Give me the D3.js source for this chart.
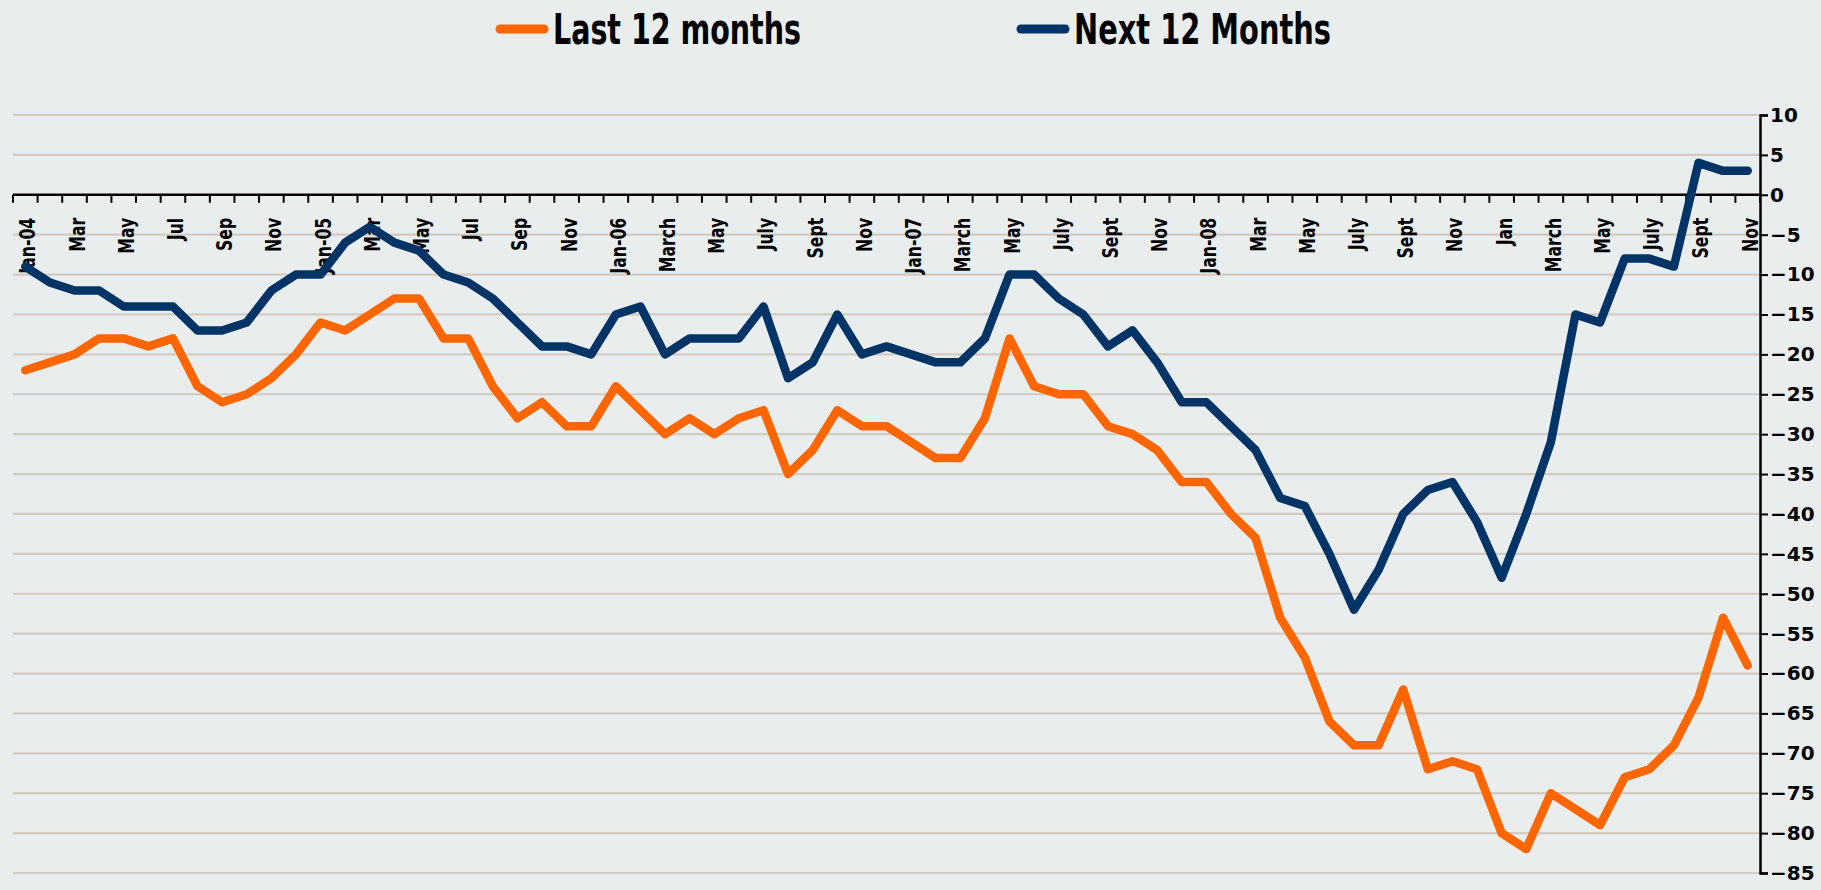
<!DOCTYPE html>
<html>
<head>
<meta charset="UTF-8">
<title>Last vs Next 12 Months</title>
<script src="https://d3js.org/d3.v7.min.js"></script>
<style>
  body { margin: 0; background: #e9edee; }
  svg { display: block; }
</style>
</head>
<body>
<svg width="1821" height="890"></svg>
<script>
// month categories, Jan-04 .. Nov-09 (only every other one is labelled)
var months = [
  "Jan-04","Feb","Mar","Apr","May","Jun","Jul","Aug","Sep","Oct","Nov","Dec",
  "Jan-05","Feb","Mar","Apr","May","Jun","Jul","Aug","Sep","Oct","Nov","Dec",
  "Jan-06","Feb","March","Apr","May","Jun","July","Aug","Sept","Oct","Nov","Dec",
  "Jan-07","Feb","March","Apr","May","Jun","July","Aug","Sept","Oct","Nov","Dec",
  "Jan-08","Feb","Mar","Apr","May","Jun","July","Aug","Sept","Oct","Nov","Dec",
  "Jan","Feb","March","Apr","May","Jun","July","Aug","Sept","Oct","Nov"
];

var last12 = [
  -22,-21,-20,-18,-18,-19,-18,-24,-26,-25,-23,-20,
  -16,-17,-15,-13,-13,-18,-18,-24,-28,-26,-29,-29,
  -24,-27,-30,-28,-30,-28,-27,-35,-32,-27,-29,-29,
  -31,-33,-33,-28,-18,-24,-25,-25,-29,-30,-32,-36,
  -36,-40,-43,-53,-58,-66,-69,-69,-62,-72,-71,-72,
  -80,-82,-75,-77,-79,-73,-72,-69,-63,-53,-59
];

var next12 = [
  -9,-11,-12,-12,-14,-14,-14,-17,-17,-16,-12,-10,
  -10,-6,-4,-6,-7,-10,-11,-13,-16,-19,-19,-20,
  -15,-14,-20,-18,-18,-18,-14,-23,-21,-15,-20,-19,
  -20,-21,-21,-18,-10,-10,-13,-15,-19,-17,-21,-26,
  -26,-29,-32,-38,-39,-45,-52,-47,-40,-37,-36,-41,
  -48,-40,-31,-15,-16,-8,-8,-9,4,3,3
];

var yTicks = d3.range(10, -86, -5);

var seriesNames = ["Last 12 months", "Next 12 Months"];
var seriesColors = ["#ff6600", "#003366"];

var svg = d3.select("svg");
var plotLeft = 13, plotRight = 1760, plotTop = 115, plotBottom = 873;

var x = d3.scaleBand().domain(d3.range(months.length)).range([plotLeft, plotRight]);
var y = d3.scaleLinear().domain([-85, 10]).range([plotBottom, plotTop]);

// gridlines
svg.append("g")
  .selectAll("line")
  .data(yTicks.filter(d => d != 0))
  .enter()
  .append("line")
  .attr("x1", plotLeft).attr("x2", plotRight)
  .attr("y1", d => y(d)).attr("y2", d => y(d))
  .attr("stroke", "#d3cbc0")
  .attr("stroke-width", 2.2);

// right value axis
var yAxis = svg.append("g")
  .attr("transform", "translate(" + plotRight + ",0)")
  .call(d3.axisRight(y).tickValues(yTicks).tickSize(8).tickPadding(6).tickFormat(d3.format("d")));
yAxis.select(".domain").attr("stroke", "#000").attr("stroke-width", 2.5);
yAxis.selectAll(".tick line").attr("stroke", "#000").attr("stroke-width", 2);
yAxis.selectAll("text")
  .attr("font-family", "DejaVu Sans, Verdana, sans-serif")
  .attr("font-weight", "bold")
  .attr("font-size", 20)
  .attr("fill", "#000")
  .attr("text-anchor", "start")
  .attr("x", 10);

// category axis on the zero line
var xg = svg.append("g");
xg.append("line")
  .attr("x1", plotLeft).attr("x2", plotRight)
  .attr("y1", y(0)).attr("y2", y(0))
  .attr("stroke", "#000").attr("stroke-width", 2.5);
xg.selectAll(".xtick")
  .data(d3.range(months.length + 1))
  .enter()
  .append("line")
  .attr("class", "xtick")
  .attr("x1", i => plotLeft + i * x.step()).attr("x2", i => plotLeft + i * x.step())
  .attr("y1", y(0)).attr("y2", y(0) + 8)
  .attr("stroke", "#000").attr("stroke-width", 2);
xg.selectAll(".xlabel")
  .data(months.map((m, i) => ({m: m, i: i})).filter(d => d.i % 2 == 0))
  .enter()
  .append("text")
  .attr("class", "xlabel")
  .attr("transform", d => "translate(" + (x(d.i) + x.bandwidth() / 2 + 10) + "," + (y(0) + 23) + ") rotate(-90) scale(0.83,1)")
  .attr("text-anchor", "end")
  .attr("font-family", "DejaVu Sans Condensed, DejaVu Sans, sans-serif")
  .attr("font-weight", "bold")
  .attr("font-size", 21)
  .attr("fill", "#000")
  .text(d => d.m);

// lines
var line = d3.line()
  .x((d, i) => x(i) + x.bandwidth() / 2)
  .y(d => y(d));

[last12, next12].forEach(function (vals, k) {
  svg.append("path")
    .datum(vals)
    .attr("d", line)
    .attr("fill", "none")
    .attr("stroke", seriesColors[k])
    .attr("stroke-width", 8.5)
    .attr("stroke-linejoin", "round")
    .attr("stroke-linecap", "round");
});

// legend
var legendX = [496, 1017];
var legend = svg.append("g");
seriesNames.forEach(function (name, k) {
  legend.append("line")
    .attr("x1", legendX[k] + 4).attr("x2", legendX[k] + 48)
    .attr("y1", 29).attr("y2", 29)
    .attr("stroke", seriesColors[k])
    .attr("stroke-width", 9)
    .attr("stroke-linecap", "round");
  legend.append("text")
    .attr("x", legendX[k] + 57)
    .attr("y", 44)
    .attr("font-family", "DejaVu Sans Condensed, DejaVu Sans, sans-serif")
    .attr("font-weight", "bold")
    .attr("font-size", 42)
    .attr("textLength", k == 0 ? 248 : 257)
    .attr("lengthAdjust", "spacingAndGlyphs")
    .attr("fill", "#000")
    .text(name);
});
</script>
</body>
</html>
